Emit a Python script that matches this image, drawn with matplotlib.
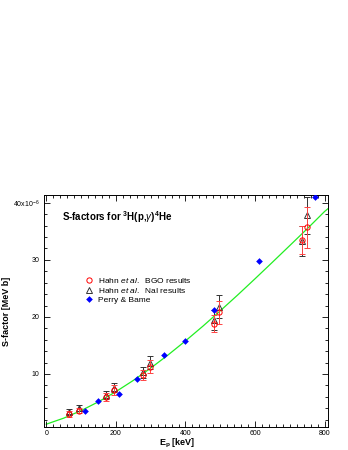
#!/usr/bin/env python3
"""S-factors for 3H(p,gamma)4He: Hahn et al. BGO / NaI and Perry & Bame."""

import matplotlib
matplotlib.use("Agg")
import matplotlib.pyplot as plt
from matplotlib.ticker import MultipleLocator, FixedLocator, FixedFormatter

plt.rcParams["font.family"] = ["Liberation Sans", "DejaVu Sans"]
plt.rcParams["mathtext.fontset"] = "custom"
plt.rcParams["mathtext.rm"] = "Liberation Sans"
plt.rcParams["mathtext.it"] = "Liberation Sans:italic"
plt.rcParams["mathtext.bf"] = "Liberation Sans:bold"

# Hahn et al., BGO results (red open circles)
bgo_e = [65, 93, 171, 195, 277, 297, 483, 497, 736, 748]
bgo_s = [3.0, 3.6, 6.0, 7.2, 9.8, 11.3, 18.8, 20.8, 33.5, 35.7]
bgo_err = [0.5, 0.5, 0.7, 0.8, 0.9, 1.1, 1.5, 2.0, 2.4, 3.6]

# Hahn et al., NaI results (black open triangles)
nai_e = [65, 93, 171, 195, 277, 297, 483, 497, 736, 748]
nai_s = [3.4, 4.0, 6.3, 7.6, 10.3, 12.0, 19.5, 21.8, 33.3, 37.8]
nai_err = [0.5, 0.5, 0.7, 0.8, 1.0, 1.2, 1.8, 2.0, 2.7, 3.2]

# Perry & Bame (blue diamonds)
pb_e = [111, 149, 210, 260, 339, 400, 481, 611, 772]
pb_s = [3.6, 5.3, 6.5, 9.2, 13.3, 15.8, 21.3, 29.8, 41.0]

# green fit curve
fit_e = [0, 50, 100, 150, 200, 250, 300, 350, 400, 450, 500, 550,
         600, 650, 700, 750, 800, 810]
fit_s = [1.2, 2.26, 3.58, 5.13, 6.9, 8.87, 11.03, 13.34, 15.8, 18.38,
         21.08, 23.85, 26.7, 29.6, 32.53, 35.47, 38.5, 39.0]

y_ticks = [10, 20, 30, 40]
y_tick_labels = ["10", "20", "30", r"40x10$^{-6}$"]


def main():
    fig = plt.figure(figsize=(3.48, 4.5), dpi=100)
    ax = fig.add_axes([0.126, 0.051, 0.817, 0.516])

    ax.plot(fit_e, fit_s, color="#22ee22", lw=0.9, zorder=1)

    nai = ax.errorbar(nai_e, nai_s, yerr=nai_err, fmt="^", mfc="none", mec="#333333",
                      ecolor="#333333", ms=3.8, mew=0.7, elinewidth=0.7, capsize=2,
                      capthick=0.7, zorder=2)
    bgo = ax.errorbar(bgo_e, bgo_s, yerr=bgo_err, fmt="o", mfc="none", mec="red",
                      ecolor="#ff4444", ms=3.8, mew=0.7, elinewidth=0.7, capsize=2,
                      capthick=0.7, zorder=3)
    pb, = ax.plot(pb_e, pb_s, "D", color="blue", ms=3.4, mew=0, zorder=4)

    ax.set_xlim(-7, 810)
    ax.set_ylim(0.7, 41.4)

    ax.xaxis.set_major_locator(MultipleLocator(200))
    ax.xaxis.set_minor_locator(MultipleLocator(20))
    ax.yaxis.set_major_locator(FixedLocator(y_ticks))
    ax.yaxis.set_major_formatter(FixedFormatter(y_tick_labels))
    ax.yaxis.set_minor_locator(MultipleLocator(2))
    ax.tick_params(which="both", direction="in", top=True, right=True,
                   labelsize=5, width=0.6, pad=3)
    ax.tick_params(axis="x", pad=2)
    ax.tick_params(which="major", length=4)
    ax.tick_params(which="minor", length=2)
    for sp in ax.spines.values():
        sp.set_linewidth(0.7)

    ax.set_xlabel(r"E$_\mathbf{p}$ [keV]", fontsize=6.5, fontweight="bold")
    ax.xaxis.set_label_coords(0.47, -0.043)
    ax.set_ylabel("S-factor [MeV b]", fontsize=6.5, fontweight="bold")
    ax.yaxis.set_label_coords(-0.115, 0.5)

    ax.text(0.065, 0.905, r"S-factors for $^\mathbf{3}$H(p,$\gamma$)$^\mathbf{4}$He",
            transform=ax.transAxes, fontsize=7, fontweight="bold", va="center")

    ax.legend([bgo[0], nai[0], pb],
              [r"Hahn $\it{et\ al.}$  BGO results",
               r"Hahn $\it{et\ al.}$  NaI results",
               "Perry & Bame"],
              loc="upper left", bbox_to_anchor=(0.13, 0.67), frameon=False,
              fontsize=6, handlelength=1.0, handletextpad=0.6, labelspacing=0.15,
              borderpad=0)

    fig.savefig("out.png", dpi=100)
    plt.close(fig)


if __name__ == "__main__":
    main()
